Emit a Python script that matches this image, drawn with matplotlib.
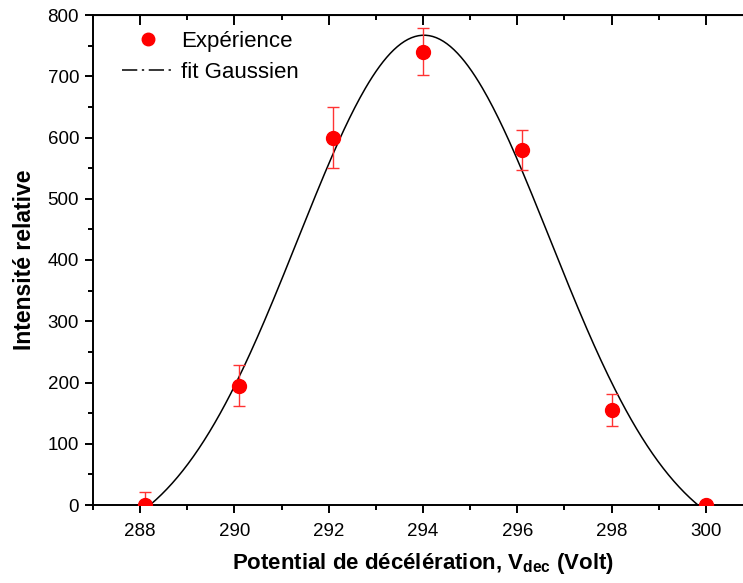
import numpy as np
import matplotlib.pyplot as plt
from matplotlib.lines import Line2D
from matplotlib.ticker import MultipleLocator

plt.rcParams['font.family'] = ['Liberation Sans', 'DejaVu Sans']
plt.rcParams['mathtext.fontset'] = 'custom'
plt.rcParams['mathtext.rm'] = 'Liberation Sans'
plt.rcParams['mathtext.bf'] = 'Liberation Sans:bold'

# experimental points
v_dec = [288.1, 290.1, 292.1, 294.0, 296.1, 298.0, 300.0]
intensite = [0, 195, 600, 740, 580, 155, 0]
erreur = [22, 33, 50, 38, 33, 26, 0]

# gaussian fit parameters
xc = 294.02
w = 2.675
A = 847
y0 = -80

fig = plt.figure(figsize=(7.43, 5.83), dpi=100)
ax = fig.add_axes([93 / 743, 78 / 583, 660 / 743, 490 / 583])

xs = np.linspace(286.5, 301.5, 400)
ax.plot(xs, y0 + A * np.exp(-(xs - xc) ** 2 / (2 * w ** 2)), color='black', lw=1.1, zorder=2)
ax.errorbar(v_dec, intensite, yerr=erreur, fmt='o', color='red', ms=10,
            ecolor='#ff3333', elinewidth=1, capsize=4, capthick=1, zorder=3)

ax.set_xlim(287, 301)
ax.set_ylim(0, 800)
ax.xaxis.set_major_locator(MultipleLocator(2))
ax.xaxis.set_minor_locator(MultipleLocator(1))
ax.yaxis.set_major_locator(MultipleLocator(100))
ax.yaxis.set_minor_locator(MultipleLocator(50))

for s in ax.spines.values():
    s.set_linewidth(1.4)
ax.tick_params(which='major', direction='out', length=6, width=1.4, labelsize=13.5)
ax.tick_params(which='minor', direction='out', length=3.5, width=1.4)
ax.tick_params(axis='x', pad=7)
ax.tick_params(axis='y', pad=4)

# mirrored ticks on top/right pointing inward
top = ax.secondary_xaxis('top')
top.xaxis.set_major_locator(MultipleLocator(2))
top.xaxis.set_minor_locator(MultipleLocator(1))
top.tick_params(which='major', direction='in', length=7, width=1.4, labeltop=False)
top.tick_params(which='minor', direction='in', length=3.5, width=1.4)
right = ax.secondary_yaxis('right')
right.yaxis.set_major_locator(MultipleLocator(100))
right.yaxis.set_minor_locator(MultipleLocator(50))
right.tick_params(which='major', direction='in', length=7, width=1.4, labelright=False)
right.tick_params(which='minor', direction='in', length=3.5, width=1.4)

ax.set_xlabel(r'Potential de décélération, V$_{\mathbf{dec}}$ (Volt)', fontsize=16,
              fontweight='bold', labelpad=8)
ax.set_ylabel('Intensité relative', fontsize=16.5, fontweight='bold', labelpad=8)

handles = [Line2D([], [], ls='none', marker='o', color='red', ms=9),
           Line2D([], [], color='black', lw=1.1, dashes=(10, 3, 1.5, 3))]
ax.legend(handles, ['Expérience', 'fit Gaussien'], loc='upper left',
          bbox_to_anchor=((122 - 93) / 660, (505 - 31) / 490), frameon=False, fontsize=16,
          borderpad=0, borderaxespad=0,
          handlelength=2.3, handletextpad=0.35, labelspacing=0.45)

fig.savefig('out.png', dpi=100)
